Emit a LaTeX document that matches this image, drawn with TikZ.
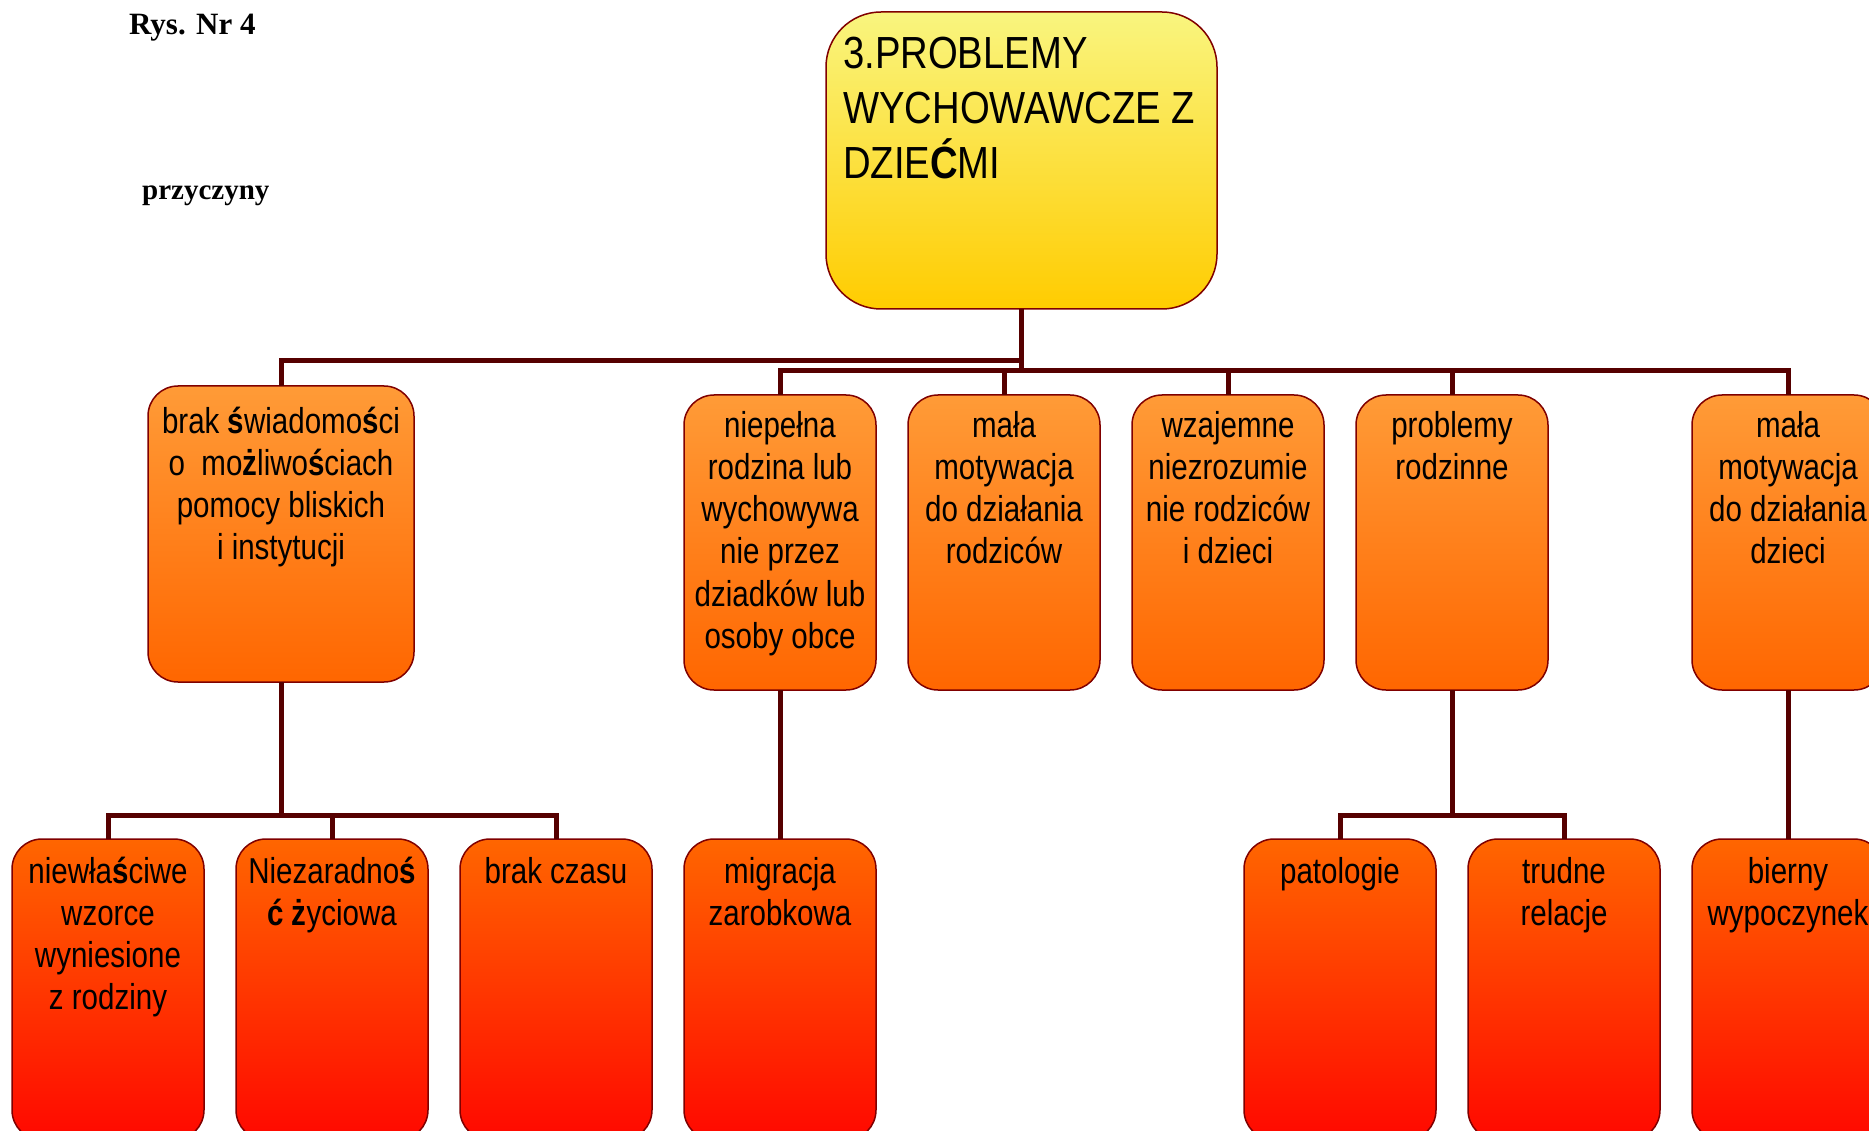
\documentclass[tikz,border=0pt]{standalone}
\usepackage{fontspec}
\setmainfont{Liberation Serif}
\newfontfamily\narrowfont[FakeStretch=0.82]{Liberation Sans}
\newfontfamily\titlefont[FakeStretch=0.85]{Liberation Sans}
\definecolor{bord}{HTML}{800000}
\definecolor{connc}{HTML}{560000}
\definecolor{ytop}{HTML}{F9F57F}
\definecolor{ybot}{HTML}{FFCC00}
\definecolor{otop}{HTML}{FF9B37}
\definecolor{obot}{HTML}{FF6600}
\definecolor{rtop}{HTML}{FF6600}
\definecolor{rbot}{HTML}{FF0800}
\newcommand\Bd[1]{{\bfseries #1}}
\tikzset{
  basebox/.style={draw=bord, line width=1.5pt, inner sep=0pt, outer sep=0pt},
  topbox/.style={basebox, rounded corners=55pt, top color=ytop, bottom color=ybot},
  midbox/.style={basebox, rounded corners=30pt, top color=otop, bottom color=obot},
  lowbox/.style={basebox, rounded corners=30pt, top color=rtop, bottom color=rbot},
  boxtext/.style={align=center, inner sep=0pt, font=\narrowfont\fontsize{36}{42.2}\selectfont},
  titletext/.style={align=left, inner sep=0pt, font=\titlefont\fontsize{45}{55}\selectfont},
  headtext/.style={inner sep=0pt, font=\bfseries\fontsize{31}{36}\selectfont},
  conn/.style={draw=connc, line width=5pt, line join=miter},
}
% [text offset], name, style, x, y, w, h, text
\newcommand\mkbox[8][13]{%
  \node[#3, minimum width=#6pt, minimum height=#7pt, anchor=north west] (#2) at (#4,#5) {};
  \node[boxtext, anchor=north] (#2t) at ([yshift=-#1pt]#2.north) {\rule{0pt}{34pt}#8};}
\begin{document}
\begin{tikzpicture}[x=1pt,y=-1pt]
\clip (0,0) rectangle (1869,1131);
\fill[white] (0,0) rectangle (1869,1131);

% header texts
\node[headtext, anchor=base west] (rys) at (129,35) {Rys. Nr 4};
\node[headtext, anchor=base west, font=\bfseries\fontsize{29}{34}\selectfont] (przy) at (142,200) {przyczyny};

% top box
\node[topbox, minimum width=391pt, minimum height=297pt, anchor=north west] (top) at (826,12) {};
\node[titletext, anchor=north west] (topt) at ([xshift=17pt,yshift=-14pt]top.north west)
  {\rule{0pt}{42pt}3.PROBLEMY\\WYCHOWAWCZE Z\\DZIE\Bd{Ć}MI};

% level 2
\mkbox{b1}{midbox}{148}{386}{266}{296}{brak \Bd{ś}wiadomo\Bd{ś}ci\\o~ mo\Bd{ż}liwo\Bd{ś}ciach\\pomocy bliskich\\i instytucji}
\mkbox[8]{b2}{midbox}{684}{395}{192}{295}{\baselineskip=41.5pt niepełna\\rodzina lub\\wychowywa\\nie przez\\dziadków lub\\osoby obce}
\mkbox[8]{b3}{midbox}{908}{395}{192}{295}{mała\\motywacja\\do działania\\rodziców}
\mkbox[8]{b4}{midbox}{1132}{395}{192}{295}{wzajemne\\niezrozumie\\nie rodziców\\i dzieci}
\mkbox[8]{b5}{midbox}{1356}{395}{192}{295}{problemy\\rodzinne}
\mkbox[8]{b6}{midbox}{1692}{395}{192}{295}{mała\\motywacja\\do działania\\dzieci}

% level 3
\mkbox[10]{c1}{lowbox}{12}{839}{192}{301}{niewła\Bd{ś}ciwe\\wzorce\\wyniesione\\z rodziny}
\mkbox[10]{c2}{lowbox}{236}{839}{192}{301}{Niezaradno\Bd{ś}\\\Bd{ć} \Bd{ż}yciowa}
\mkbox[10]{c3}{lowbox}{460}{839}{192}{301}{brak czasu}
\mkbox[10]{c4}{lowbox}{684}{839}{192}{301}{migracja\\zarobkowa}
\mkbox[10]{c5}{lowbox}{1244}{839}{192}{301}{patologie}
\mkbox[10]{c6}{lowbox}{1468}{839}{192}{301}{trudne\\relacje}
\mkbox[10]{c7}{lowbox}{1692}{839}{192}{301}{bierny\\wypoczynek}

% bus levels
\coordinate (busA) at (0,361);
\coordinate (busB) at (0,371);
\coordinate (busC) at (0,815);

% connectors
\draw[conn] (b1.north) -- (b1.north |- busA) -- (top.south |- busA);
\draw[conn] (top.south) -- (top.south |- busB);
\draw[conn] (b2.north) -- (b2.north |- busB) -- (b6.north |- busB) -- (b6.north);
\draw[conn] (b3.north) -- (b3.north |- busB);
\draw[conn] (b4.north) -- (b4.north |- busB);
\draw[conn] (b5.north) -- (b5.north |- busB);

\draw[conn] (b1.south) -- (b1.south |- busC);
\draw[conn] (c1.north) -- (c1.north |- busC) -- (c3.north |- busC) -- (c3.north);
\draw[conn] (c2.north) -- (c2.north |- busC);

\draw[conn] (b2.south) -- (c4.north);

\draw[conn] (b5.south) -- (b5.south |- busC);
\draw[conn] (c5.north) -- (c5.north |- busC) -- (c6.north |- busC) -- (c6.north);

\draw[conn] (b6.south) -- (c7.north);
\end{tikzpicture}
\end{document}
